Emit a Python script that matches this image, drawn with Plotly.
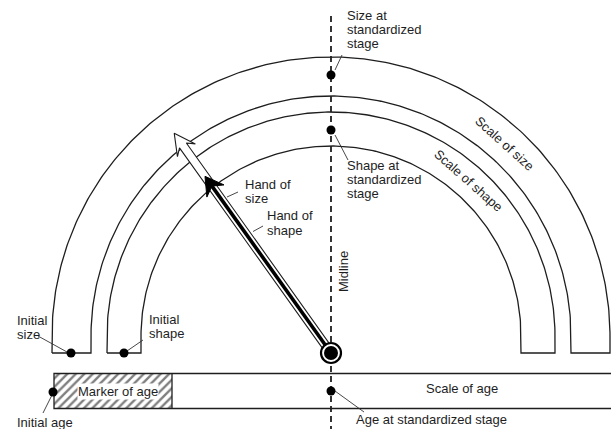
import numpy as np
import plotly.graph_objects as go

FONT = "Liberation Sans, Arial, Helvetica, sans-serif"
INK = "#1e1e1e"

# ---- dial scales (concentric semicircular bands) ----
scale_labels = ["Scale of size", "Scale of shape"]
scale_outer_r = [279, 224]
scale_inner_r = [240, 190]
scale_base_y = -17
scale_label_pos_deg = [48, 48.5]

# ---- hands ----
hand_names = ["Hand of size", "Hand of shape"]
hand_angle_deg = 125.5
hand_len = [270, 217]
pivot = [0, -17]

# ---- age scale ----
age_bar_x = [-277, 300]
age_bar_y = [-72.5, -37.5]
age_marker_end = -159

# ---- marked points ----
point_names = ["Size at standardized stage", "Shape at standardized stage",
               "Initial size", "Initial shape", "Initial age",
               "Age at standardized stage"]
point_x = [0, 0, -260, -207, -278, 0]
point_y = [261, 206, -17, -17, -56, -55]

# ---- text labels: (text, x, y) left anchored ----
label_text = ["Size at", "standardized", "stage",
              "Shape at", "standardized", "stage",
              "Hand of", "size", "Hand of", "shape",
              "Initial", "size", "Initial", "shape",
              "Initial age", "Age at standardized stage"]
label_x = [14, 14, 14, 14, 14, 14, -88, -88, -66, -66,
           -316, -316, -184, -184, -316, 23]
label_y = [321, 307, 293, 171, 157, 143, 152, 138, 121, 106,
           16, 2, 17, 3, -86, -83]

# ---- leader lines ----
leader_x0 = [4, 4, -104, -78, -293, -204, -278, 4]
leader_y0 = [266, 201, 139, 104.5, 0, -15, -57, -55]
leader_x1 = [11, 17, -93, -68, -264, -188, -288, 33]
leader_y1 = [281, 176, 144, 110, -16, -4, -77, -76]

fig = go.Figure()

# hatched "marker of age" (bar with pattern)
fig.add_trace(go.Bar(
    orientation="h", y=[np.mean(age_bar_y)], x=[age_marker_end - age_bar_x[0]],
    base=[age_bar_x[0]], width=[age_bar_y[1] - age_bar_y[0]],
    marker=dict(color="white", line=dict(width=0),
                pattern=dict(shape="/", size=6, solidity=0.4,
                             fgcolor="#000", bgcolor="white")),
    hoverinfo="skip"))

# age scale outline
fig.add_trace(go.Scatter(
    x=[age_bar_x[1], age_bar_x[0], age_bar_x[0], age_bar_x[1], None,
       age_marker_end, age_marker_end],
    y=[age_bar_y[1], age_bar_y[1], age_bar_y[0], age_bar_y[0], None,
       age_bar_y[0], age_bar_y[1]],
    mode="lines", line=dict(color=INK, width=1.3), hoverinfo="skip"))

# bands
for R, r in zip(scale_outer_r, scale_inner_r):
    t = np.linspace(np.pi, 0, 241)
    xs = [-R] + list(R * np.cos(t)) + [R, r] + list(r * np.cos(t[::-1])) + [-r, -R]
    ys = [scale_base_y] + list(R * np.sin(t)) + [scale_base_y, scale_base_y] + \
         list(r * np.sin(t[::-1])) + [scale_base_y, scale_base_y]
    fig.add_trace(go.Scatter(x=xs, y=ys, mode="lines",
                             line=dict(color=INK, width=1.3), hoverinfo="skip"))

# midline
fig.add_trace(go.Scatter(x=[0, 0], y=[320, -95], mode="lines",
                         line=dict(color=INK, width=1.8, dash="6px,4px"),
                         hoverinfo="skip"))

# hands
th = np.deg2rad(hand_angle_deg)
d = np.array([np.cos(th), np.sin(th)])
n = np.array([np.sin(th), -np.cos(th)])
P = np.array(pivot, dtype=float)


def pts(uv):
    arr = [P + u * d + v * n for u, v in uv]
    return [p[0] for p in arr], [p[1] for p in arr]


L = hand_len[0]
size_uv = [(0, -4.2), (L - 15, -4.2), (L - 21, -11), (L, 0), (L - 21, 11),
           (L - 15, 4.2), (0, 4.2), (0, -4.2)]
xs, ys = pts(size_uv)
fig.add_trace(go.Scatter(x=xs, y=ys, mode="lines", fill="toself",
                         fillcolor="white", line=dict(color=INK, width=1.1),
                         hoverinfo="skip"))

Ls = hand_len[1]
xs, ys = pts([(0, 0), (Ls - 12, 0)])
fig.add_trace(go.Scatter(x=xs, y=ys, mode="lines",
                         line=dict(color="black", width=3.6), hoverinfo="skip"))
xs, ys = pts([(Ls, 0), (Ls - 18, 10.5), (Ls - 13, 1.8), (Ls - 13, -1.8),
              (Ls - 18, -10.5), (Ls, 0)])
fig.add_trace(go.Scatter(x=xs, y=ys, mode="lines", fill="toself",
                         fillcolor="black", line=dict(color="black", width=1),
                         hoverinfo="skip"))

# leader lines
lx, ly = [], []
for a, b, c, e in zip(leader_x0, leader_y0, leader_x1, leader_y1):
    lx += [a, c, None]
    ly += [b, e, None]
fig.add_trace(go.Scatter(x=lx, y=ly, mode="lines",
                         line=dict(color="#333", width=0.9), hoverinfo="skip"))

# points
fig.add_trace(go.Scatter(x=point_x, y=point_y, mode="markers",
                         marker=dict(color="black", size=9), text=point_names,
                         hoverinfo="text"))

# pivot dial
fig.add_trace(go.Scatter(x=[pivot[0]], y=[pivot[1]], mode="markers",
                         marker=dict(color="white", size=20,
                                     line=dict(color="black", width=2.2)),
                         hoverinfo="skip"))
fig.add_trace(go.Scatter(x=[pivot[0]], y=[pivot[1]], mode="markers",
                         marker=dict(color="black", size=14), hoverinfo="skip"))

font = dict(family=FONT, size=13, color=INK)
annotations = []
for t, x, y in zip(label_text, label_x, label_y):
    annotations.append(dict(text=t, x=x, y=y, xanchor="left", yanchor="middle",
                            showarrow=False, font=font))

# scale labels along arcs
for lab, R, r, deg in zip(scale_labels, scale_outer_r, scale_inner_r,
                          scale_label_pos_deg):
    rm = (R + r) / 2
    a = np.deg2rad(deg)
    annotations.append(dict(text=lab, x=rm * np.cos(a), y=rm * np.sin(a),
                            xanchor="center", yanchor="middle",
                            textangle=90 - deg, showarrow=False, font=font))

annotations.append(dict(text="Midline", x=12, y=64, textangle=-90,
                        xanchor="center", yanchor="middle", showarrow=False,
                        font=font))
annotations.append(dict(text="Marker of age", x=-213, y=-55, xanchor="center",
                        yanchor="middle", showarrow=False, font=font,
                        bgcolor="white", borderpad=0))
annotations.append(dict(text="Scale of age", x=131, y=-52, xanchor="center",
                        yanchor="middle", showarrow=False, font=font))

fig.update_layout(
    width=611, height=429, margin=dict(l=0, r=0, t=0, b=0),
    paper_bgcolor="white", plot_bgcolor="white", showlegend=False,
    xaxis=dict(range=[-331, 280], visible=False, fixedrange=True),
    yaxis=dict(range=[-93, 336], visible=False, fixedrange=True),
    annotations=annotations, bargap=0,
)

fig.write_html(
    "out.html",
    config={"displayModeBar": False},
    post_script="document.body.style.margin='0';document.body.style.overflow='hidden';",
)
